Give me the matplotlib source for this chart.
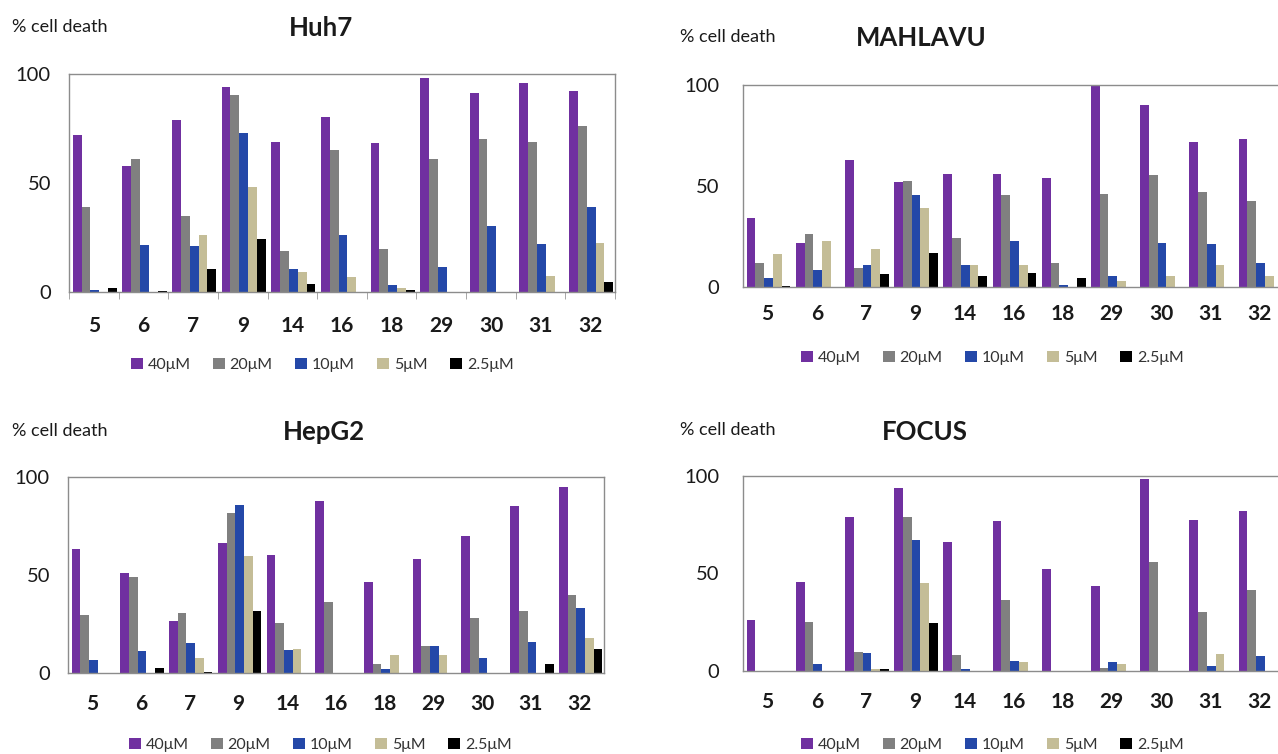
import numpy as np
import matplotlib
matplotlib.use("Agg")
import matplotlib.pyplot as plt
from matplotlib.patches import Patch

plt.rcParams['font.family'] = ['Lato', 'DejaVu Sans']

compounds = ['5', '6', '7', '9', '14', '16', '18', '29', '30', '31', '32']
concentrations = ['40μM', '20μM', '10μM', '5μM', '2.5μM']
colors = ['#7030A0', '#808080', '#2448A8', '#C4BD97', '#000000']

# % cell death per concentration (rows: 40, 20, 10, 5, 2.5 µM)
huh7 = [
    [72, 58, 79, 94, 69, 80.5, 68.5, 98, 91.5, 96, 92],
    [39, 61, 35, 90.5, 19, 65, 19.5, 61, 70, 69, 76],
    [1, 21.5, 21, 73, 10.7, 26, 3, 11.5, 30.5, 22, 39],
    [0, 0, 26, 48, 9, 6.7, 2, 0, 0, 7.5, 22.7],
    [1.8, 0.6, 10.7, 24.5, 3.8, 0, 0.8, 0, 0, 0, 4.4],
]
mahlavu = [
    [34, 22, 63, 52, 56, 56, 54, 100, 90, 72, 73.5],
    [12, 26, 9.5, 52.5, 24.5, 45.5, 12, 46, 55.5, 47, 42.5],
    [4.5, 8.5, 11, 45.5, 11, 23, 1, 5.5, 22, 21.5, 12],
    [16.5, 23, 19, 39, 11, 11, 0, 2.8, 5.5, 11, 5.5],
    [0.5, -0.6, 6.5, 17, 5.5, 7, 4.5, -0.6, -0.5, -0.5, -0.5],
]
hepg2 = [
    [63.5, 51, 26.5, 66.5, 60, 88, 46.5, 58, 70, 85, 95],
    [29.5, 49, 30.5, 81.5, 25.5, 36, 4.5, 14, 28, 31.5, 40],
    [6.5, 11, 15.5, 85.5, 11.5, -0.5, 2.2, 14, 7.5, 16, 33],
    [-0.5, -0.3, 7.5, 59.5, 12.5, -0.5, 9, 9, -0.3, -0.3, 18],
    [-0.5, 2.8, 0.3, 31.5, -0.5, -0.5, -0.5, -0.5, -0.5, 4.5, 12.5],
]
focus = [
    [26, 45.5, 79, 94, 66, 77, 52.5, 43.5, 98.5, 77.5, 82],
    [0, 25, 10, 79, 8.2, 36.5, 0, 1.5, 56, 30.5, 41.5],
    [0, 3.6, 9.2, 67, 1, 5, 0, 4.6, 0, 2.5, 7.5],
    [0, 0, 1, 45, 0, 4.5, 0, 3.5, 0, 8.7, 0],
    [0, 0, 1, 24.8, 0, 0, 0, 0, 0, 0, 0],
]

W, H = 1278, 754
fig = plt.figure(figsize=(W / 100, H / 100), dpi=100)

TXT = '#1a1a1a'


def px_axes(x0, y0, x1, y1):
    return fig.add_axes([x0 / W, 1 - y1 / H, (x1 - x0) / W, (y1 - y0) / H])


def panel(data, title, box, ylab_pos, title_pos, legend_pos, ypad, xpad, boundary_ticks):
    ax = px_axes(*box)
    x = np.arange(len(compounds))
    bw = 0.178
    for i, (vals, c) in enumerate(zip(data, colors)):
        ax.bar(x + (i - 2) * bw + 0.02, vals, width=bw, color=c, linewidth=0,
               clip_on=False, zorder=2)
    ax.set_xlim(-0.5, len(compounds) - 0.5)
    ax.set_ylim(0, 100)
    ax.set_yticks([0, 50, 100])
    ax.set_yticklabels(['0', '50', '100'])
    ax.set_xticks(x)
    ax.set_xticklabels(compounds, fontweight='bold')
    ax.tick_params(axis='y', length=0, labelsize=14.5, pad=ypad, labelcolor=TXT)
    ax.tick_params(axis='x', length=0, labelsize=15, pad=xpad, labelcolor=TXT)
    if boundary_ticks:
        ax.set_xticks(np.arange(-0.5, len(compounds) + 0.5, 1), minor=True)
        ax.tick_params(axis='x', which='minor', length=5, color='#999999',
                       direction='out')
    for s in ax.spines.values():
        s.set_color('#8c8c8c')
        s.set_linewidth(1.0)
    fig.text(ylab_pos[0] / W, 1 - ylab_pos[1] / H, '% cell death', fontsize=13,
             color=TXT, ha='left', va='center')
    fig.text(title_pos[0] / W, 1 - title_pos[1] / H, title, fontsize=18.5,
             fontweight='bold', color=TXT, ha='center', va='center')
    handles = [Patch(facecolor=c, edgecolor='none') for c in colors]
    fig.legend(handles, concentrations, loc='center',
               bbox_to_anchor=(legend_pos[0] / W, 1 - legend_pos[1] / H),
               ncol=5, frameon=False, fontsize=11.5, handlelength=0.75,
               handleheight=0.75, handletextpad=0.3, columnspacing=1.4,
               labelcolor='#333333')
    return ax


panel(huh7, 'Huh7', (69, 74, 615, 292), (12, 27), (321, 28), (322, 365), 13, 17, True)
panel(mahlavu, 'MAHLAVU', (743, 85, 1284, 287), (680, 37), (921, 38), (992, 358), 17, 12, False)
panel(hepg2, 'HepG2', (68, 477, 604, 673), (12, 431), (324, 432), (320, 745), 13, 15, False)
panel(focus, 'FOCUS', (743, 476, 1284, 671), (680, 430), (925, 432), (992, 745), 17, 15, False)

fig.savefig('out.png', dpi=100)
